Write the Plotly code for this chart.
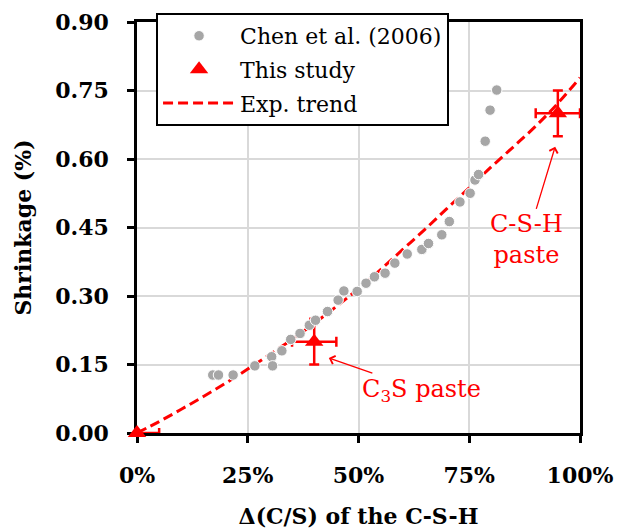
import plotly.graph_objects as go

# ---- data ----
chen_x = [17.1, 18.4, 21.7, 26.6, 30.4, 30.6, 32.7, 34.7, 36.8, 38.9, 40.3, 43.0, 45.4, 46.7, 49.7,
          51.7, 53.6, 56.0, 58.2, 61.0, 64.3, 65.8, 68.8, 70.5, 72.9, 75.2, 76.3, 77.1, 78.6, 79.7, 81.2]
chen_y = [0.127, 0.127, 0.127, 0.147, 0.167, 0.147, 0.180, 0.205, 0.218, 0.236, 0.247, 0.266, 0.291, 0.311, 0.310,
          0.328, 0.342, 0.350, 0.372, 0.392, 0.402, 0.415, 0.434, 0.463, 0.506, 0.525, 0.554, 0.566, 0.639, 0.707, 0.751]

study_x = [0, 40, 95]
study_y = [0.0, 0.20, 0.70]
study_xerr_plus = [5, 5, 5]
study_xerr_minus = [0, 5, 5]
study_yerr = [0, 0.05, 0.05]

trend_x = [0, 5, 10, 15, 20, 25, 30, 35, 40, 45, 50, 55, 60, 65, 70, 75, 80, 85, 90, 95, 100]
trend_y = [0.0, 0.025, 0.052, 0.080, 0.109, 0.140, 0.172, 0.205, 0.240, 0.277, 0.316, 0.358, 0.402,
           0.446, 0.492, 0.537, 0.583, 0.627, 0.672, 0.722, 0.778]

x_ticks = [0, 25, 50, 75, 100]
x_tick_labels = ["0%", "25%", "50%", "75%", "100%"]
y_ticks = [0.0, 0.15, 0.30, 0.45, 0.60, 0.75, 0.90]
y_tick_labels = ["0.00", "0.15", "0.30", "0.45", "0.60", "0.75", "0.90"]

SERIF = "DejaVu Serif"
RED = "#ff0000"
GRAY = "#a6a6a6"

fig = go.Figure()

fig.add_trace(go.Scatter(
    x=trend_x, y=trend_y, mode="lines", name="Exp. trend",
    line=dict(color=RED, width=3, dash="10px,5px", shape="spline"),
    legendgroup="c", legendrank=3, hoverinfo="skip"))

fig.add_trace(go.Scatter(
    x=study_x, y=study_y, mode="markers", name="This study",
    marker=dict(symbol="triangle-up", size=16, color=RED),
    error_x=dict(type="data", symmetric=False, array=study_xerr_plus, arrayminus=study_xerr_minus,
                 color=RED, thickness=2.5, width=5),
    error_y=dict(type="data", array=study_yerr, color=RED, thickness=2.5, width=5),
    cliponaxis=False, legendgroup="b", legendrank=2))

fig.add_trace(go.Scatter(
    x=chen_x, y=chen_y, mode="markers", name="Chen et al. (2006)",
    marker=dict(symbol="circle", size=10.5, color=GRAY, line=dict(color="white", width=1)),
    legendgroup="a", legendrank=1))

axis_common = dict(showline=True, linecolor="black", linewidth=2.5, mirror=True,
                   ticks="outside", ticklen=7, tickwidth=2.5, tickcolor="black",
                   showgrid=True, gridcolor="#d9d9d9", gridwidth=2, zeroline=False,
                   layer="below traces", automargin=False,
                   tickfont=dict(family=SERIF, size=22, color="black", weight="bold"))

fig.update_layout(
    width=622, height=530,
    margin=dict(l=137, r=42, t=22, b=97),
    plot_bgcolor="white", paper_bgcolor="white",
    showlegend=True,
    legend=dict(x=0.043, y=1.022, xanchor="left", yanchor="top",
                bgcolor="white", bordercolor="black", borderwidth=2,
                font=dict(family=SERIF, size=22, color="black"),
                traceorder="grouped", tracegroupgap=2, itemwidth=72),
    xaxis=dict(range=[0, 100], tickvals=x_ticks, ticktext=x_tick_labels,
               ticklabelstandoff=14,
               title=dict(text="Δ(C/S) of the C-S-H", standoff=22,
                          font=dict(family=SERIF, size=22, color="black", weight="bold")),
               **axis_common),
    yaxis=dict(range=[0, 0.9], tickvals=y_ticks, ticktext=y_tick_labels,
               ticklabelstandoff=14,
               title=dict(text="Shrinkage (%)", standoff=18,
                          font=dict(family=SERIF, size=22, color="black", weight="bold")),
               **axis_common),
    xaxis2=dict(range=[0, 100], tickvals=x_ticks, overlaying="x", anchor="y", side="bottom",
                ticks="inside", ticklen=5, tickwidth=2.5, tickcolor="black",
                showticklabels=False, showgrid=False, showline=False, zeroline=False),
    yaxis2=dict(range=[0, 0.9], tickvals=y_ticks, overlaying="y", anchor="x", side="left",
                ticks="inside", ticklen=5, tickwidth=2.5, tickcolor="black",
                showticklabels=False, showgrid=False, showline=False, zeroline=False),
)

fig.add_annotation(
    x=43.3, y=0.164, ax=64.3, ay=0.094, xref="x", yref="y", axref="x", ayref="y",
    text="C<sub>3</sub>S paste", showarrow=True, arrowhead=4, arrowsize=1.3, arrowwidth=1.3,
    arrowcolor=RED, font=dict(family=SERIF, size=24, color=RED))

fig.add_annotation(
    x=94.4, y=0.627, ax=88.0, ay=0.423, xref="x", yref="y", axref="x", ayref="y",
    text="C-S-H<br>paste", showarrow=True, arrowhead=4, arrowsize=1.3, arrowwidth=1.3,
    arrowcolor=RED, font=dict(family=SERIF, size=24, color=RED))

fig.write_html("out.html")
